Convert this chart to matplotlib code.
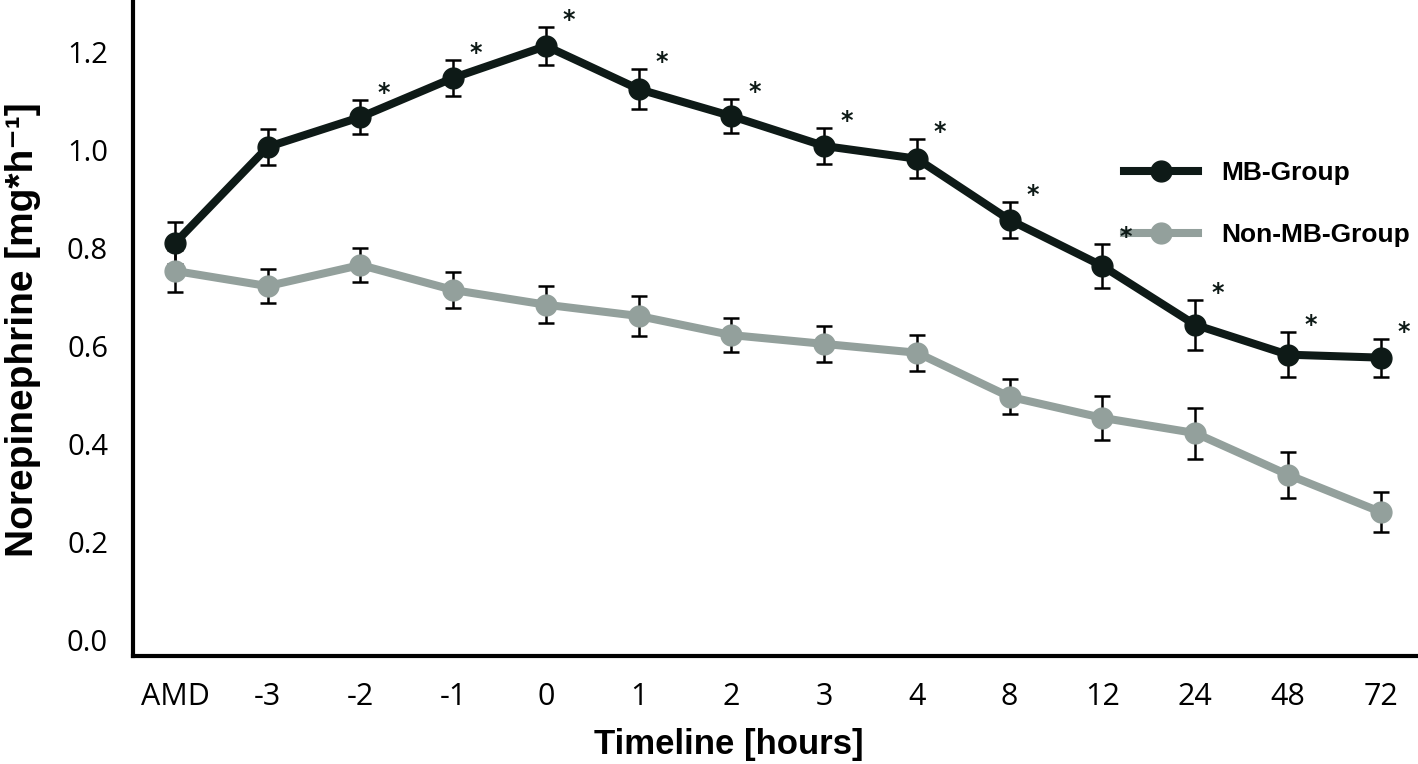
import matplotlib
matplotlib.use("Agg")
import matplotlib.pyplot as plt
import numpy as np

# timeline categories
timeline = ["AMD", "-3", "-2", "-1", "0", "1", "2", "3", "4", "8", "12", "24", "48", "72"]

# norepinephrine means and error (mg*h-1)
mb_mean = [0.81, 1.006, 1.067, 1.147, 1.212, 1.124, 1.069, 1.008, 0.982, 0.857, 0.763, 0.643, 0.582, 0.576]
mb_err = [0.042, 0.036, 0.035, 0.036, 0.038, 0.041, 0.035, 0.037, 0.040, 0.036, 0.045, 0.051, 0.046, 0.039]
non_mean = [0.753, 0.722, 0.765, 0.714, 0.684, 0.661, 0.622, 0.604, 0.586, 0.496, 0.453, 0.422, 0.337, 0.261]
non_err = [0.043, 0.035, 0.035, 0.036, 0.038, 0.041, 0.034, 0.036, 0.037, 0.036, 0.045, 0.052, 0.047, 0.040]
# points marked significant
signif = [False, False] + [True] * 12

dark = "#0e1a17"
grey = "#93a09c"

fig = plt.figure(figsize=(14.18, 7.64), dpi=100)
ax = fig.add_axes([0.0938, 0.1414, 0.906, 0.8586])

x = np.arange(len(timeline))

ax.errorbar(x, mb_mean, yerr=mb_err, fmt="none", ecolor="black", elinewidth=1.8,
            capsize=6, capthick=1.8, zorder=2)
ax.errorbar(x, non_mean, yerr=non_err, fmt="none", ecolor="black", elinewidth=1.8,
            capsize=6, capthick=1.8, zorder=2)
ax.plot(x, mb_mean, color=dark, lw=5.8, marker="o", ms=15, label="MB-Group", zorder=3)
ax.plot(x, non_mean, color=grey, lw=5.8, marker="o", ms=15, label="Non-MB-Group", zorder=3)

for xi, m, e, s in zip(x, mb_mean, mb_err, signif):
    if s:
        ax.annotate("*", (xi, m + e), xytext=(16.5, 0), textcoords="offset points",
                    ha="center", va="baseline", fontsize=17, fontweight="bold",
                    color=dark, family="DejaVu Sans", annotation_clip=False, zorder=6)

ax.set_xlim(-0.453, 13.4)
ax.set_ylim(-0.033, 1.306)
ax.set_xticks(x)
ax.set_xticklabels(timeline, family="Open Sans", fontsize=22)
ax.set_yticks([0.0, 0.2, 0.4, 0.6, 0.8, 1.0, 1.2])
ax.set_yticklabels(["0.0", "0.2", "0.4", "0.6", "0.8", "1.0", "1.2"], family="Open Sans", fontsize=21)
ax.tick_params(axis="both", length=0)
ax.tick_params(axis="x", pad=19)
ax.tick_params(axis="y", pad=18)

for side in ["top", "right"]:
    ax.spines[side].set_visible(False)
for side in ["left", "bottom"]:
    ax.spines[side].set_linewidth(3)
    ax.spines[side].set_color("black")

fig.text(0.514, 0.025, "Timeline [hours]", ha="center", va="center",
         family=["Liberation Sans", "DejaVu Sans"], fontweight="bold", fontsize=25)
fig.text(0.016, 0.568, "Norepinephrine [mg*h\u207b\u00b9]", ha="center", va="center",
         rotation=90, family=["Liberation Sans", "DejaVu Sans"], fontweight="bold", fontsize=28)

leg = ax.legend(loc="center left", bbox_to_anchor=(0.793, 0.733), bbox_transform=fig.transFigure,
                frameon=False, borderpad=0, borderaxespad=0, handlelength=2.8,
                handletextpad=0.85, labelspacing=1.45,
                prop={"family": "Liberation Sans", "weight": "bold", "size": 19})

fig.savefig("out.png", dpi=100, facecolor="white")
